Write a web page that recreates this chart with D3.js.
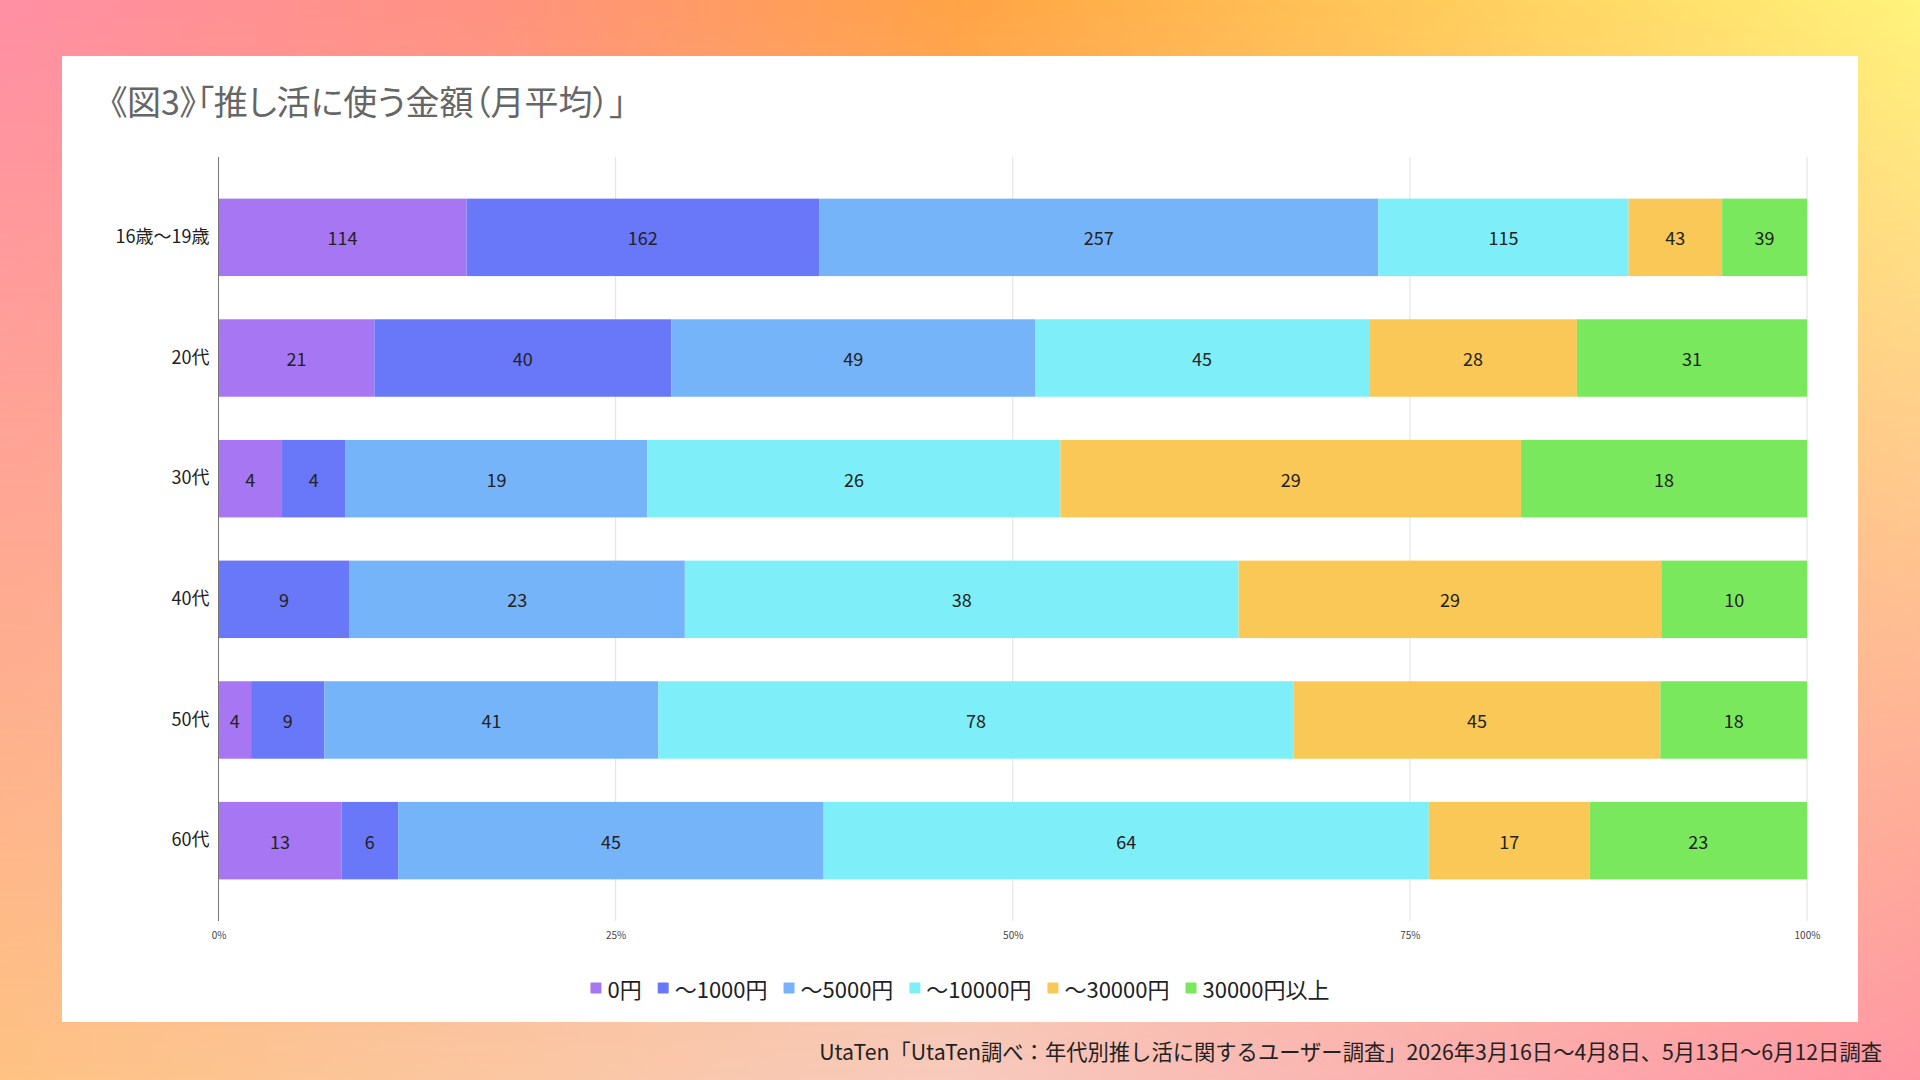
<!DOCTYPE html>
<html><head><meta charset="utf-8">
<script src="https://cdn.jsdelivr.net/npm/d3@7"></script>
<style>html,body{margin:0;padding:0;overflow:hidden;} svg{display:block;}</style>
</head><body>
<svg id="c" width="1920" height="1080"></svg>
<script>
const categories = ["16歳～19歳","20代","30代","40代","50代","60代"];
const seriesNames = ["0円","～1000円","～5000円","～10000円","～30000円","30000円以上"];
const s0 = [114,21,4,0,4,13];
const s1 = [162,40,4,9,9,6];
const s2 = [257,49,19,23,41,45];
const s3 = [115,45,26,38,78,64];
const s4 = [43,28,29,29,45,17];
const s5 = [39,31,18,10,18,23];
const tickValues = [0,0.25,0.5,0.75,1];
const tickLabels = ["0%","25%","50%","75%","100%"];
const colors = ["#a776f2","#6878f8","#76b4fa","#7eeff8","#fac856","#79e85c"];
const titleText = "《図3》「推し活に使う金額（月平均）」";
const sourceText = "UtaTen「UtaTen調べ：年代別推し活に関するユーザー調査」2026年3月16日～4月8日、5月13日～6月12日調査";

const FONT = "'Noto Sans CJK JP','Noto Sans',sans-serif";
const svg = d3.select("#c");
const defs = svg.append("defs");

// background gradients
const gTop = defs.append("linearGradient").attr("id","gTop").attr("x1","0").attr("x2","1").attr("y1","0").attr("y2","0");
[[0,"#ff8fa4"],[0.25,"#ff9282"],[0.5,"#ffa446"],[0.75,"#ffcc5c"],[1,"#fff47c"]].forEach(s=>gTop.append("stop").attr("offset",s[0]).attr("stop-color",s[1]));
const gBot = defs.append("linearGradient").attr("id","gBot").attr("x1","0").attr("x2","1").attr("y1","0").attr("y2","0");
[[0,"#fec282"],[0.5,"#f7cabd"],[1,"#ff95a3"]].forEach(s=>gBot.append("stop").attr("offset",s[0]).attr("stop-color",s[1]));
const gMask = defs.append("linearGradient").attr("id","gMask").attr("x1","0").attr("x2","0").attr("y1","0").attr("y2","1");
gMask.append("stop").attr("offset",0).attr("stop-color","#000");
gMask.append("stop").attr("offset",1).attr("stop-color","#fff");
const mask = defs.append("mask").attr("id","mBot").attr("maskUnits","userSpaceOnUse").attr("x",0).attr("y",0).attr("width",1920).attr("height",1080);
mask.append("rect").attr("width",1920).attr("height",1080).attr("fill","url(#gMask)");

svg.append("rect").attr("width",1920).attr("height",1080).attr("fill","url(#gTop)");
svg.append("rect").attr("width",1920).attr("height",1080).attr("fill","url(#gBot)").attr("mask","url(#mBot)");

// white panel
svg.append("rect").attr("x",62).attr("y",56).attr("width",1796).attr("height",966).attr("fill","#ffffff");

// title
svg.append("text").attr("x",110).attr("y",115).attr("font-family",FONT).attr("font-size",34)
  .style("font-feature-settings","'palt'")
  .attr("fill","#666").text(titleText);

// data
const series = [s0,s1,s2,s3,s4,s5];
const rows = categories.map((c,i)=>{
  const vals = series.map(s=>s[i]);
  const total = d3.sum(vals);
  let acc = 0;
  const segs = vals.map((v,j)=>{ const seg={cat:c,j,v,x0:acc/total,x1:(acc+v)/total}; acc+=v; return seg; });
  return {cat:c,segs};
});

const x = d3.scaleLinear().domain([0,1]).range([218.5,1807]);
const y = d3.scaleBand().domain(categories).range([157,921]).paddingInner(0.358).paddingOuter(0.345);

// grid
svg.append("g").selectAll("line").data(tickValues.slice(1)).join("line")
  .attr("x1",d=>x(d)).attr("x2",d=>x(d)).attr("y1",157).attr("y2",921)
  .attr("stroke","#e0e0e0").attr("stroke-width",1);

// bars
const g = svg.append("g");
rows.forEach(r=>{
  const gr = g.append("g");
  gr.selectAll("rect").data(r.segs.filter(s=>s.v>0)).join("rect")
    .attr("x",d=>x(d.x0)).attr("width",d=>x(d.x1)-x(d.x0))
    .attr("y",y(r.cat)).attr("height",y.bandwidth())
    .attr("fill",d=>colors[d.j]);
  gr.selectAll("text").data(r.segs.filter(s=>s.v>0)).join("text")
    .attr("x",d=>(x(d.x0)+x(d.x1))/2).attr("y",y(r.cat)+y.bandwidth()/2)
    .attr("text-anchor","middle").attr("dominant-baseline","central")
    .attr("font-family",FONT).attr("font-size",18).attr("fill","#222")
    .text(d=>d.v);
});

// y axis line
svg.append("line").attr("x1",x(0)).attr("x2",x(0)).attr("y1",157).attr("y2",921).attr("stroke","#777").attr("stroke-width",1);

// category labels
const yAxis = d3.axisLeft(y).tickSize(0).tickPadding(9);
const ya = svg.append("g").attr("transform",`translate(${x(0)},0)`).call(yAxis);
ya.select(".domain").remove();
ya.selectAll("text").attr("font-family",FONT).attr("font-size",18).attr("fill","#222");

// x axis tick labels
const xAxis = d3.axisBottom(x).tickValues(tickValues).tickFormat((d,i)=>tickLabels[i]).tickSize(0).tickPadding(11);
const xa = svg.append("g").attr("transform","translate(0,921)").call(xAxis);
xa.select(".domain").remove();
xa.selectAll("text").attr("font-family",FONT).attr("font-size",10).attr("fill","#444");

// legend
const leg = svg.append("g");
let lx = 0;
seriesNames.forEach((n,i)=>{
  const it = leg.append("g");
  it.append("rect").attr("x",0).attr("y",-5.5).attr("width",11).attr("height",11).attr("rx",1).attr("fill",colors[i]);
  const t = it.append("text").attr("x",17).attr("y",0).attr("dominant-baseline","central")
    .attr("font-family",FONT).attr("font-size",22).attr("fill","#222").text(n);
  const w = t.node().getComputedTextLength();
  it.attr("transform",`translate(${lx},0)`);
  lx += 17 + w + 16;
});
const legW = lx - 16;
leg.attr("transform",`translate(${960 - legW/2},988)`);

// source
svg.append("text").attr("x",1882).attr("y",1060).attr("text-anchor","end")
  .attr("font-family",FONT).attr("font-size",21.3).attr("fill","#222").text(sourceText);
</script>
</body></html>
